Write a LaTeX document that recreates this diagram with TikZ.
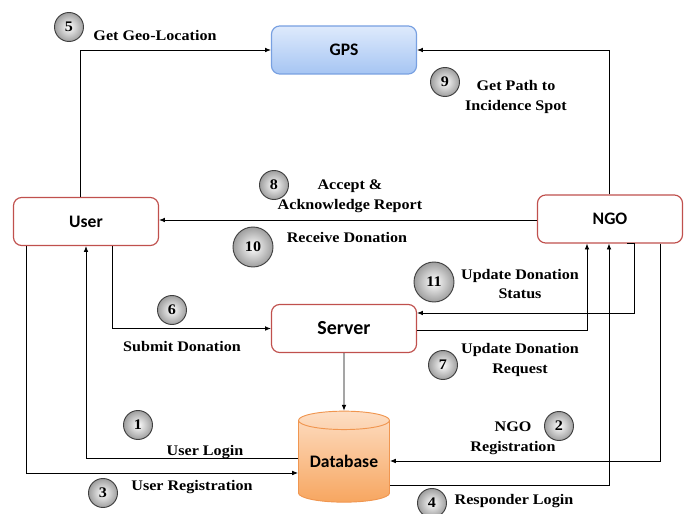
\documentclass[tikz,border=0pt]{standalone}
\usepackage{fontspec}
\setmainfont{Liberation Serif}[FakeStretch=1.1]
\newfontfamily\boxfont{Carlito}
\usepackage{tikz}
\usetikzlibrary{arrows.meta}
\usetikzlibrary{shapes.geometric}

\definecolor{boxred}{RGB}{192,80,77}
\definecolor{gpstop}{RGB}{222,234,252}
\definecolor{gpsbot}{RGB}{166,197,243}
\definecolor{gpsline}{RGB}{120,160,225}
\definecolor{dbtop}{RGB}{253,222,196}
\definecolor{dbbot}{RGB}{247,166,96}
\definecolor{dbline}{RGB}{240,150,80}

\tikzset{
    block/.style = {draw=boxred, line width=1pt, rounded corners=7pt, fill=white, minimum width=4.35cm, minimum height=1.44cm, inner sep=0pt, font=\boxfont\fontsize{15}{18}\selectfont\bfseries},
    gpsblock/.style = {block, draw=gpsline, top color=gpstop, bottom color=gpsbot},
    dbstore/.style = {cylinder, shape border rotate=90, aspect=0.27, draw=dbline, line width=0.8pt, top color=dbtop, bottom color=dbbot, minimum width=2.73cm, minimum height=2.73cm, inner sep=0pt, font=\boxfont\fontsize{15}{18}\selectfont\bfseries},
    num/.style = {circle, draw=black!75, line width=0.8pt, inner color=white, outer color=black!38, minimum size=0.87cm, inner sep=0pt, font=\fontsize{12.5}{14}\selectfont\bfseries},
    bignum/.style = {num, minimum size=1.2cm},
    lbl/.style = {align=center, inner sep=0pt, font=\fontsize{12.5}{17}\selectfont\bfseries}
}

\begin{document}
\begin{tikzpicture}[x = 0.03cm, y = -0.03cm, >={Latex[length=5pt, width=4pt]}, line width = 0.7pt]
    \useasboundingbox (0, 0) rectangle (687, 514);

    % main blocks
    \node [gpsblock] (gps) at (344, 50) {GPS};
    \node [block] (user) at (86, 221.5) {User};
    \node [block] (ngo) at (610, 219) {NGO};
    \node [block, font=\boxfont\fontsize{17}{20}\selectfont\bfseries] (server) at (344, 328.5) {Server};
    \node [dbstore] (db) at (344, 461.5) {Database};

    % connectors
    \draw [->] (user.north -| 80, 0) |- (gps.west);
    \draw [->] (ngo.north -| 609, 0) |- (gps.east);
    \draw [->] (ngo.west |- 0, 220) -- (user.east |- 0, 220);
    \draw [->] (user.south -| 112, 0) |- (server.west);
    \draw [->] (server.east |- 0, 330) -| (ngo.south -| 587, 0);
    \draw [->] (ngo.south -| 627, 0) -- (ngo.south -| 634, 0) |- (server.east |- 0, 313);
    \draw [->] (server.south) -- (db.90);
    \draw [->] (db.180 |- 0, 458) -| (user.south -| 86, 0);
    \draw [->] (user.south -| 26, 0) |- (db.180 |- 0, 473);
    \draw [->] (ngo.south -| 660, 0) |- (db.0 |- 0, 461);
    \draw [->] (db.0 |- 0, 485) -| (ngo.south -| 609, 0);

    % step numbers
    \node [num] (n1) at (138, 425) {1};
    \node [num] (n2) at (559, 426) {2};
    \node [num] (n3) at (103, 493) {3};
    \node [num] (n4) at (432, 503) {4};
    \node [num] (n5) at (69, 27) {5};
    \node [num] (n6) at (172, 310) {6};
    \node [num] (n7) at (443, 365) {7};
    \node [num] (n8) at (274, 185) {8};
    \node [num] (n9) at (445, 82) {9};
    \node [bignum] (n10) at (253, 247) {10};
    \node [bignum] (n11) at (434, 282) {11};

    % labels
    \node [lbl] (l1) at (205, 452) {User Login};
    \node [lbl] (l2) at (513, 438) {NGO\\Registration};
    \node [lbl] (l3) at (192, 487) {User Registration};
    \node [lbl] (l4) at (514, 501) {Responder Login};
    \node [lbl] (l5) at (155, 35) {Get Geo-Location};
    \node [lbl] (l6) at (182, 347) {Submit Donation};
    \node [lbl] (l7) at (520, 360) {Update Donation\\Request};
    \node [lbl] (l8) at (350, 196) {Accept \&\\Acknowledge Report};
    \node [lbl] (l9) at (516, 97) {Get Path to\\Incidence Spot};
    \node [lbl] (l10) at (347, 237) {Receive Donation};
    \node [lbl] (l11) at (520, 284) {Update Donation\\Status};
\end{tikzpicture}
\end{document}
